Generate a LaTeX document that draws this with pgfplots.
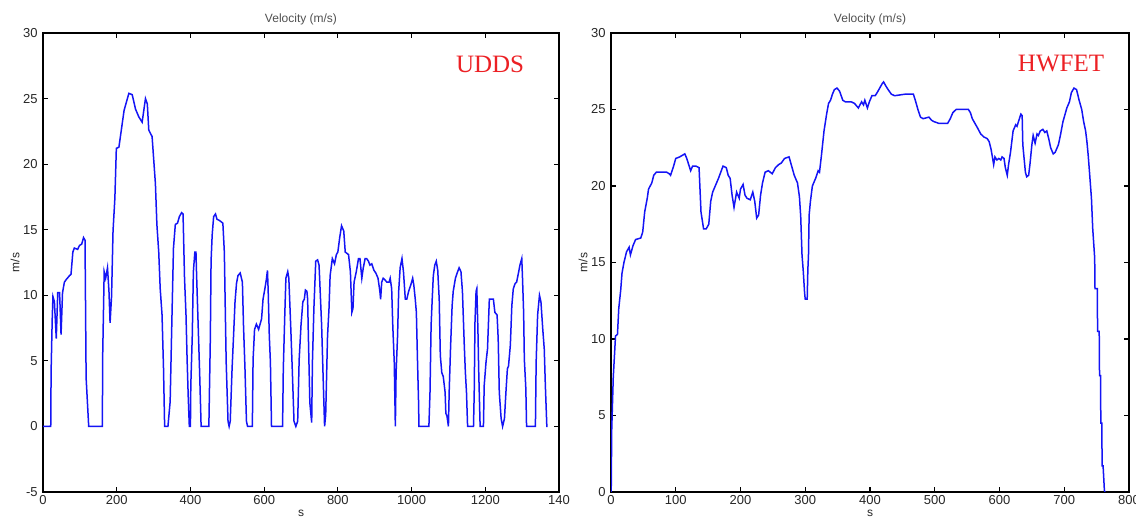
\documentclass[border=0pt]{standalone}
\usepackage{pgfplots}
\pgfplotsset{compat=1.18}
\usepackage{fontspec}
\setmainfont{Liberation Sans}
\newfontfamily\serifx{Liberation Serif}
\definecolor{lineblue}{RGB}{20,20,245}
\definecolor{lblred}{RGB}{236,32,36}
\definecolor{ttlgray}{RGB}{80,80,80}
\pgfplotsset{
  vstyle/.style={
    scale only axis,
    height=229.5pt,
    axis line style={line width=0.6pt},
    tick align=inside,
    major tick length=2.5pt,
    every tick/.style={black, line width=0.6pt},
    /pgf/number format/assume math mode=true,
    tick label style={font=\fontsize{6.5}{7}\selectfont, text=black!85},
    xticklabel style={inner sep=1.5pt},
    yticklabel style={inner sep=2.5pt},
    every axis title/.style={font=\fontsize{6}{7}\selectfont, text=ttlgray, at={(axis description cs:0.5,1)}, anchor=base, inner sep=0pt, yshift=5pt},
    every axis y label/.style={at={(axis description cs:0,0.5)}, xshift=-14pt, rotate=90, anchor=center, font=\fontsize{6}{7}\selectfont, text=black!85},
    every axis x label/.style={at={(axis description cs:0.5,0)}, yshift=-10.5pt, anchor=center, font=\fontsize{6}{7}\selectfont, text=black!85},
    title={Velocity (m/s)},
    ylabel={m/s},
    xlabel={s},
  }
}
\begin{document}
\begin{tikzpicture}
\path[use as bounding box] (0,0) rectangle (568pt,259pt);
\begin{axis}[vstyle,
  at={(21.5pt,13pt)}, anchor=south west,
  width=258pt,
  xmin=0, xmax=1400, ymin=-5, ymax=30,
  xtick={0,200,400,600,800,1000,1200,1400},
  xticklabels={0,200,400,600,800,1000,1200,140},
  ytick={-5,0,5,10,15,20,25,30},
]
\addplot[lineblue, line width=0.75pt] coordinates {
(0,0) (21,0) (22,4.2) (25,8.2) (27,9.9) (31,9.5) (36,6.7) (40,10.2) (45,10.2) (49,7.0) (53,10.2) (58,11.0) (63,11.2) (72,11.5) (76,11.6) (81,13.3) (85,13.6) (94,13.5) (99,13.8) (105,13.9) (110,14.4) (114,14.2) (117,3.7) (124,0) (161,0) (162,5.5) (166,11.8) (170,11.3) (175,12.1) (179,10.3) (182,7.9) (186,9.9) (190,14.9) (195,17.4) (199,21.2) (206,21.3) (211,22.3) (215,23.1) (220,24.1) (226,24.7) (233,25.4) (242,25.3) (251,24.2) (260,23.6) (269,23.2) (274,24.2) (278,25.0) (283,24.6) (287,22.6) (296,22.1) (300,20.5) (305,18.5) (309,15.4) (314,13.3) (318,10.5) (323,8.5) (327,4.4) (330,0) (339,0) (345,1.9) (350,8.5) (354,13.6) (359,15.4) (365,15.5) (370,16.0) (376,16.3) (380,16.2) (384,11.3) (388,8.5) (391,5.1) (394,2.3) (397,0) (400,0) (401,3.1) (405,6.9) (408,11.8) (412,13.3) (415,13.3) (417,11.3) (421,7.7) (425,4.1) (429,0) (450,0) (454,6.7) (456,12.6) (459,14.6) (463,16.0) (468,16.2) (472,15.8) (479,15.7) (488,15.5) (492,13.3) (495,8.2) (497,4.9) (502,0.4) (505,0) (508,0.4) (513,4.4) (517,6.9) (521,9.5) (525,10.9) (529,11.5) (535,11.7) (541,11.0) (544,7.7) (548,4.4) (552,0.4) (555,0) (568,0) (570,5.1) (574,7.4) (579,7.8) (585,7.4) (593,8.2) (597,9.7) (602,10.5) (606,11.2) (609,11.9) (611,10.3) (614,6.9) (617,4.9) (620,0) (650,0) (652,4.4) (656,8.5) (659,11.3) (664,11.8) (667,11.3) (672,7.7) (676,4.6) (681,0.4) (686,0) (691,0.4) (695,5.1) (700,7.7) (705,9.5) (709,9.7) (712,10.4) (716,10.3) (718,9.7) (720,6.9) (724,1.8) (729,0.3) (731,4.9) (735,9.0) (740,12.6) (745,12.7) (749,12.3) (756,7.7) (760,3.8) (764,0) (767,0.9) (772,6.9) (776,9.0) (779,11.5) (785,12.8) (791,12.4) (796,13.1) (800,13.3) (805,14.4) (810,15.3) (816,14.9) (820,13.3) (829,13.1) (834,11.8) (838,8.7) (841,9.0) (844,11.0) (850,11.8) (856,12.8) (860,12.8) (865,11.3) (869,12.1) (874,12.8) (878,12.8) (883,12.6) (887,12.3) (892,12.4) (898,11.9) (903,11.7) (909,11.3) (914,10.3) (916,9.7) (919,11.0) (923,11.3) (927,11.2) (933,11.0) (939,11.0) (942,11.3) (946,10.5) (949,7.7) (953,4.9) (956,0) (958,4.1) (962,6.9) (965,10.3) (969,12.1) (974,12.8) (978,11.8) (983,9.7) (987,9.7) (992,10.3) (998,10.8) (1003,11.3) (1006,10.8) (1010,9.7) (1013,8.7) (1016,5.1) (1019,1.8) (1020,0) (1047,0) (1050,2.6) (1053,7.7) (1056,9.7) (1059,11.5) (1063,12.3) (1067,12.6) (1071,11.9) (1075,9.7) (1078,5.4) (1082,4.1) (1086,3.8) (1091,2.6) (1093,1.0) (1096,0.8) (1100,0) (1102,2.6) (1106,6.2) (1110,9.2) (1113,10.3) (1119,11.3) (1125,11.8) (1129,12.1) (1134,11.8) (1138,10.3) (1143,6.2) (1146,4.1) (1149,2.6) (1152,0) (1168,0) (1170,2.6) (1172,7.9) (1175,10.3) (1177,10.5) (1180,7.4) (1182,4.4) (1186,0) (1195,0) (1197,3.1) (1202,4.9) (1206,5.9) (1211,9.7) (1215,9.7) (1222,9.7) (1226,8.7) (1232,8.5) (1235,6.7) (1238,2.6) (1243,0.6) (1247,0) (1252,0.6) (1256,2.6) (1260,4.4) (1263,4.6) (1268,6.2) (1272,9.2) (1276,10.5) (1281,10.9) (1285,11.0) (1290,11.7) (1294,12.3) (1299,12.8) (1301,11.3) (1304,8.7) (1306,5.1) (1310,2.9) (1312,0) (1336,0) (1338,4.9) (1342,8.5) (1347,10.0) (1351,9.5) (1356,7.4) (1360,5.9) (1363,3.1) (1367,0) (1369,0)
};
\node[text=lblred, font=\serifx\fontsize{12.5}{14}\selectfont] at (axis cs:1213,27.6) {UDDS};
\end{axis}
\begin{axis}[vstyle,
  at={(305.5pt,13pt)}, anchor=south west,
  width=259pt,
  xmin=0, xmax=800, ymin=0, ymax=30,
  xtick={0,100,...,800},
  ytick={0,5,...,30},
]
\addplot[lineblue, line width=0.75pt] coordinates {
(0,0) (0.5,0.5) (1,3.9) (3.5,7.5) (7,10.2) (10,10.3) (12,12.0) (15,13.2) (17,14.3) (20,15.0) (24,15.7) (28,16.0) (30,15.5) (34,16.1) (38,16.5) (46,16.6) (49,17.0) (52,18.3) (56,19.2) (58,19.8) (63,20.2) (66,20.7) (70,20.9) (86,20.9) (90,20.8) (92,20.7) (96,21.2) (100,21.8) (106,21.9) (114,22.1) (117,21.8) (120,21.4) (123,21.0) (126,21.3) (131,21.3) (136,21.2) (139,18.3) (143,17.2) (147,17.2) (151,17.5) (154,19.0) (157,19.6) (161,20.0) (166,20.5) (173,21.3) (178,21.2) (181,20.7) (184,20.5) (187,19.4) (190,18.6) (194,19.6) (198,19.2) (200,19.8) (204,20.1) (207,19.4) (210,19.2) (215,19.1) (219,19.6) (222,19.0) (225,17.9) (228,18.1) (231,19.4) (234,20.2) (238,20.9) (243,21.0) (249,20.8) (254,21.2) (259,21.4) (263,21.5) (268,21.8) (275,21.9) (279,21.3) (283,20.7) (288,20.2) (291,19.3) (293,18.0) (295,15.5) (297,14.4) (299,13.0) (300,12.6) (303,12.6) (304,14.5) (305,15.5) (306,18.1) (308,19.0) (311,20.0) (316,20.5) (320,21.0) (322,20.9) (325,22.0) (329,23.6) (333,24.7) (336,25.4) (339,25.6) (342,26.0) (345,26.3) (349,26.4) (353,26.2) (358,25.6) (362,25.5) (371,25.5) (376,25.4) (382,25.1) (387,25.5) (390,25.3) (392,25.6) (396,25.1) (399,25.5) (403,25.9) (408,25.9) (411,26.1) (415,26.4) (419,26.7) (421,26.8) (425,26.5) (428,26.3) (433,26.0) (438,25.9) (454,26.0) (467,26.0) (470,25.6) (474,25.0) (478,24.5) (482,24.4) (491,24.5) (495,24.3) (499,24.2) (506,24.1) (520,24.1) (524,24.4) (528,24.8) (533,25.0) (552,25.0) (555,24.8) (558,24.4) (562,24.1) (566,23.8) (571,23.4) (576,23.2) (581,23.1) (584,22.9) (587,22.4) (589,21.9) (591,21.4) (593,21.9) (596,21.7) (599,21.8) (602,21.7) (604,21.9) (607,21.8) (609,21.2) (612,20.7) (614,21.4) (617,22.2) (621,23.6) (625,24.0) (627,23.9) (630,24.3) (633,24.7) (635,24.6) (636,22.7) (638,21.8) (640,20.9) (642,20.6) (645,20.7) (647,21.4) (650,22.7) (652,23.3) (655,22.8) (658,23.4) (660,23.3) (663,23.6) (667,23.7) (670,23.5) (673,23.6) (676,23.1) (679,22.5) (683,22.1) (686,22.2) (691,22.7) (694,23.3) (698,24.2) (704,25.1) (708,25.5) (711,26.1) (715,26.4) (719,26.3) (723,25.6) (727,25.0) (730,24.2) (733,23.6) (735,22.9) (737,22.0) (739,20.9) (742,19.2) (744,17.2) (747,15.3) (747.5,13.3) (751,13.3) (751.5,10.5) (754,10.5) (754.5,7.6) (756,7.6) (756.5,4.5) (758,4.5) (758.5,1.7) (760,1.7) (762,0.1) (763,0)
};
\node[text=lblred, font=\serifx\fontsize{12.5}{14}\selectfont] at (axis cs:695,28.0) {HWFET};
\end{axis}
\end{tikzpicture}
\end{document}
